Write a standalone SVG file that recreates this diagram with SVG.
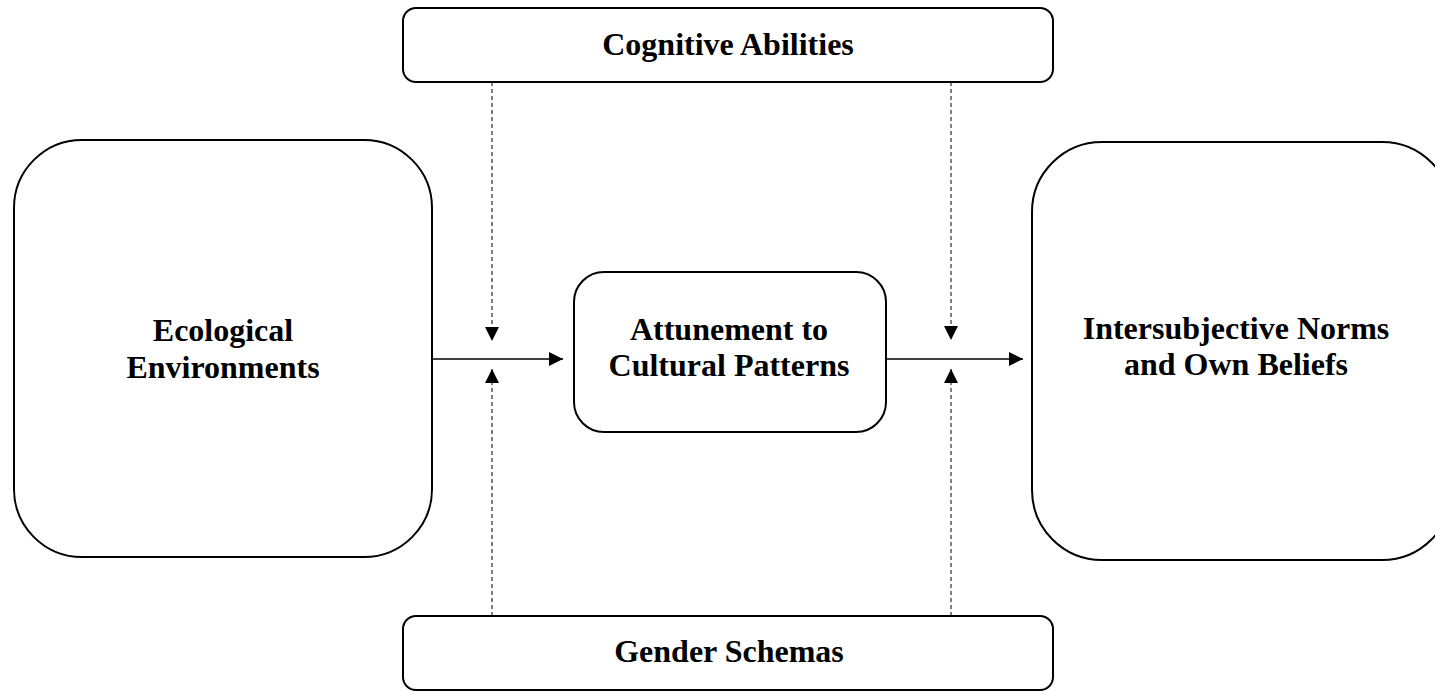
<svg xmlns="http://www.w3.org/2000/svg" width="1435" height="691" viewBox="0 0 1435 691">
<style>
.box{fill:#fff;stroke:#000;stroke-width:2}
.t{font-family:"Liberation Serif","Times New Roman",serif;font-weight:bold;font-size:32px;text-anchor:middle;fill:#000}
.solid{stroke:#000;stroke-width:1.3;fill:none}
.dash{stroke:#000;stroke-width:1;stroke-dasharray:4,3;fill:none}
</style>
<defs>
<marker id="ah" viewBox="0 0 10 10" refX="10" refY="5" markerWidth="14" markerHeight="14" markerUnits="userSpaceOnUse" orient="auto">
<path d="M0,0 L10,5 L0,10 Z" fill="#000"/>
</marker>
</defs>
<rect width="1435" height="691" fill="#fff"/>
<g id="cognitive">
<rect class="box" x="403" y="8" width="650" height="74" rx="13"/>
<text class="t" x="728" y="55">Cognitive Abilities</text>
</g>
<g id="ecological">
<rect class="box" x="14" y="140" width="418" height="417" rx="68"/>
<text class="t" x="223" y="341">Ecological</text>
<text class="t" x="223" y="378">Environments</text>
</g>
<g id="attunement">
<rect class="box" x="574" y="272" width="312" height="160" rx="30"/>
<text class="t" x="729" y="340">Attunement to</text>
<text class="t" x="729" y="376">Cultural Patterns</text>
</g>
<g id="intersubjective">
<rect class="box" x="1032" y="142" width="420" height="418" rx="70"/>
<text class="t" x="1236" y="339">Intersubjective Norms</text>
<text class="t" x="1236" y="375">and Own Beliefs</text>
</g>
<g id="gender">
<rect class="box" x="403" y="616" width="650" height="74" rx="13"/>
<text class="t" x="729" y="662">Gender Schemas</text>
</g>
<g id="connectors">
<line class="solid" x1="432" y1="359" x2="563" y2="359" marker-end="url(#ah)"/>
<line class="solid" x1="887" y1="359" x2="1023" y2="359" marker-end="url(#ah)"/>
<line class="dash" x1="492" y1="82" x2="492" y2="341" marker-end="url(#ah)"/>
<line class="dash" x1="492" y1="616" x2="492" y2="369" marker-end="url(#ah)"/>
<line class="dash" x1="951" y1="82" x2="951" y2="340" marker-end="url(#ah)"/>
<line class="dash" x1="951" y1="616" x2="951" y2="369" marker-end="url(#ah)"/>
</g>
</svg>
